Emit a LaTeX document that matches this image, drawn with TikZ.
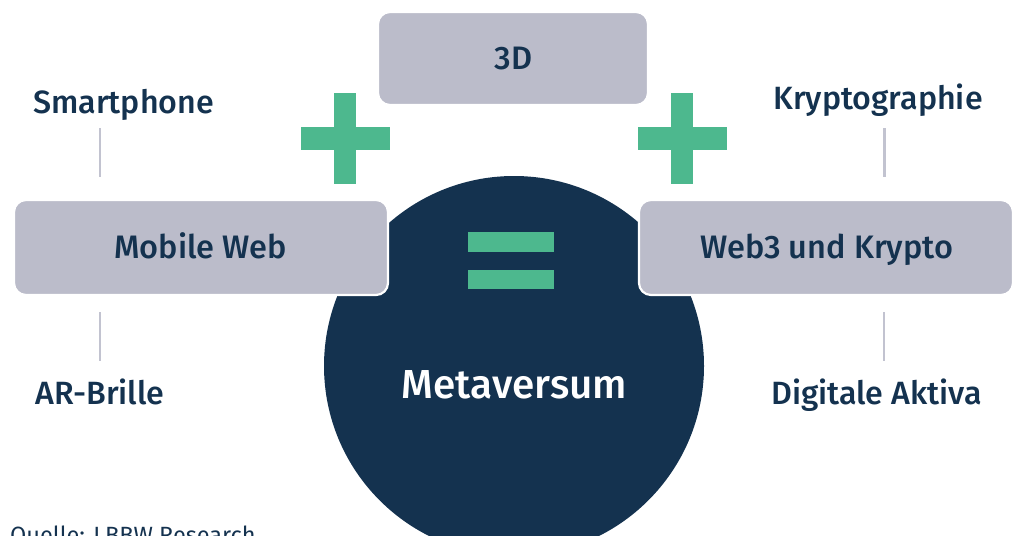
\documentclass[tikz,border=0pt]{standalone}
\usepackage{fontspec}
\setmainfont{Fira Sans}[UprightFont=* Medium]
\newfontfamily\quellefont{Fira Sans}
\definecolor{navy}{HTML}{14324F}
\definecolor{boxgrey}{HTML}{BBBCCA}
\definecolor{linegrey}{HTML}{C2C3D0}
\definecolor{mint}{HTML}{4DB88E}
\tikzset{
  graybox/.style={fill=boxgrey, draw=white, line width=2.2pt, rounded corners=12pt},
  lbl/.style={text=navy, font=\fontsize{32.2}{38}\selectfont, anchor=base, inner sep=0pt},
  boxlbl/.style={text=navy, font=\fontsize{32.5}{38}\selectfont, anchor=base, inner sep=0pt},
  conn/.style={draw=linegrey, line width=2.4pt},
  sign/.style={fill=mint, draw=none}
}
\begin{document}
\begin{tikzpicture}[x=1pt,y=-1pt]
\useasboundingbox (0,0) rectangle (1016,535);
% central circle
\fill[navy] (514,366) circle (190);
% boxes
\draw[graybox] (378,12) rectangle (648,105);
\draw[graybox] (14,200) rectangle (388,295);
\draw[graybox] (639,200) rectangle (1013,295);
% plus signs
\fill[sign] (334,93) rectangle (356,184);
\fill[sign] (301,127) rectangle (390,150);
\fill[sign] (671,93) rectangle (693,184);
\fill[sign] (638,127) rectangle (727,150);
% equals
\fill[sign] (468,232) rectangle (554,252);
\fill[sign] (468,270) rectangle (554,289);
% box labels
\node[boxlbl] (d3) at (513.5,70) {3D};
\node[boxlbl] (mweb) at (200.5,258) {Mobile Web};
\node[boxlbl] (web3) at (827,258) {Web3 und Krypto};
\node[text=white, font=\fontsize{40.5}{46}\selectfont, anchor=base, inner sep=0pt] (meta) at (514.5,398) {Metaversum};
% outer labels
\node[lbl] (smart) at (123.5,113) {Smartphone};
\node[lbl] (krypt) at (878,109) {Kryptographie};
\node[lbl] (ar) at (100,404) {AR-Brille};
\node[lbl] (digi) at (876.5,404) {Digitale Aktiva};
% connector end points
\coordinate (s1) at (100,128); \coordinate (s2) at (100,177);
\coordinate (k1) at (884.5,128); \coordinate (k2) at (884.5,177);
\coordinate (a1) at (100,312); \coordinate (a2) at (100,361);
\coordinate (g1) at (884,312); \coordinate (g2) at (884,361);
\draw[conn] (s1) -- (s2);
\draw[conn] (k1) -- (k2);
\draw[conn] (a1) -- (a2);
\draw[conn] (g1) -- (g2);
% source
\node[text=navy, font=\quellefont\fontsize{23.5}{28}\selectfont, anchor=base west, inner sep=0pt] (src) at (10,543) {Quelle: LBBW Research};
\end{tikzpicture}
\end{document}
